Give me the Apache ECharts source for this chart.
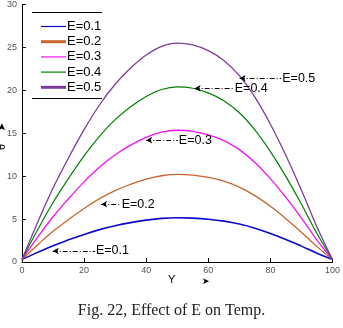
<!DOCTYPE html>
<html>
<head>
<meta charset="utf-8">
<script src="https://cdn.jsdelivr.net/npm/echarts@6/dist/echarts.min.js"></script>
<style>
html,body{margin:0;padding:0;background:#fff;}
#chart{width:343px;height:328px;}
</style>
</head>
<body>
<div id="chart"></div>
<script>
const xValues = [0,5,10,15,20,25,30,35,40,45,50,55,60,65,70,75,80,85,90,95,100];
const seriesNames = ['E=0.1','E=0.2','E=0.3','E=0.4','E=0.5'];
const e01 = [0.3,1.12,1.90,2.58,3.21,3.77,4.23,4.59,4.88,5.08,5.15,5.11,4.98,4.76,4.42,3.94,3.33,2.63,1.85,1.03,0.3];
const e02 = [0.3,1.98,3.57,4.95,6.24,7.38,8.32,9.06,9.66,10.05,10.2,10.12,9.85,9.41,8.72,7.73,6.49,5.05,3.47,1.79,0.3];
const e03 = [0.3,2.86,5.27,7.37,9.33,11.06,12.49,13.62,14.52,15.12,15.35,15.23,14.82,14.15,13.09,11.59,9.71,7.52,5.12,2.56,0.3];
const e04 = [0.3,3.72,6.93,9.75,12.36,14.67,16.58,18.09,19.29,20.10,20.4,20.24,19.70,18.79,17.39,15.38,12.86,9.95,6.73,3.32,0.3];
const e05 = [0.3,4.58,8.62,12.14,15.42,18.32,20.71,22.60,24.11,25.12,25.5,25.30,24.62,23.48,21.72,19.20,16.05,12.40,8.36,4.08,0.3];
const xTicks = [0,20,40,60,80,100];
const yTicks = [0,5,10,15,20,25,30];
// annotation arrows: [tipX, tipY, endX]
const annotations = [[9.9,1.28,23.5],[25.5,6.74,31.8],[40.0,14.19,50.2],[55.6,20.23,68.2],[70.1,21.4,83.5]];

const allData = [e01,e02,e03,e04,e05];
const colors = ['#0a0ac8','#c8642d','#f010f0','#008000','#7a3e98'];
const widths = [1.6,1.3,1.3,1.2,1.3];
const legendWidths = [1.2,3,1.2,1.2,3];

const chart = echarts.init(document.getElementById('chart'));
const series = allData.map((arr,i)=>({
  name: seriesNames[i],
  type: 'line',
  smooth: 0.4,
  showSymbol: false,
  symbol: 'none',
  data: xValues.map((x,j)=>[x,arr[j]]),
  lineStyle: {color: colors[i], width: widths[i]},
  itemStyle: {color: colors[i]},
  markLine: {
    silent: true,
    symbol: ['arrow','none'],
    symbolSize: [5,6],
    animation: false,
    lineStyle: {color:'#000', width:1, type:[5,2,1,2]},
    label: {show:true, position:'end', formatter: seriesNames[i], color:'#000', fontSize:12.5, fontFamily:'Liberation Sans, Arial', distance:1},
    data: [[{coord:[annotations[i][0],annotations[i][1]]},{coord:[annotations[i][2],annotations[i][1]]}]]
  }
}));

chart.setOption({
  animation: false,
  backgroundColor: '#fff',
  grid: {left: 22, right: 6, top: 4, bottom: 66},
  xAxis: {
    type: 'value', min: 0, max: 100, interval: 20,
    axisLine: {lineStyle: {color:'#000', width:1}},
    axisTick: {inside: true, length: 4, lineStyle:{color:'#000'}},
    axisLabel: {color:'#555', fontSize: 9, fontFamily:'Liberation Sans, Arial', margin: 4,
      formatter: v => xTicks.includes(v) ? String(v) : ''},
    splitLine: {show:false}
  },
  yAxis: {
    type: 'value', min: 0, max: 30, interval: 5,
    axisLine: {show:true, lineStyle: {color:'#000', width:1}},
    axisTick: {show:true, inside: true, length: 4, lineStyle:{color:'#000'}},
    axisLabel: {color:'#555', fontSize: 9, fontFamily:'Liberation Sans, Arial', margin: 5,
      formatter: v => yTicks.includes(v) ? String(v) : ''},
    splitLine: {show:false}
  },
  legend: {
    orient: 'vertical', left: 36, top: 15,
    itemWidth: 25, itemHeight: 12, itemGap: 2.2,
    icon: 'rect',
    textStyle: {color:'#000', fontSize: 13, fontFamily:'Liberation Sans, Arial', padding:[0,0,0,-4]},
    data: seriesNames.map((n,i)=>({name:n, icon:'path://M0,0L25,0L25,'+legendWidths[i]+'L0,'+legendWidths[i]+'Z', itemStyle:{color:colors[i]}}))
  },
  graphic: [
    {type:'line', shape:{x1:32,y1:12.5,x2:102,y2:12.5}, style:{stroke:'#000', lineWidth:1}},
    {type:'line', shape:{x1:32,y1:98.5,x2:102,y2:98.5}, style:{stroke:'#000', lineWidth:1}},
    {type:'text', left:168, top:274, style:{text:'Y', fontSize:11, fill:'#000', fontFamily:'Liberation Sans, Arial'}},
    {type:'text', left:202, top:277, style:{text:'➤', fontSize:9, fill:'#000', fontFamily:'DejaVu Sans'}},
    {type:'text', x:-3, y:150, rotation:Math.PI/2, style:{text:'θ    ➤', fontSize:10, fill:'#000', fontFamily:'DejaVu Sans'}},
    {type:'text', left:'center', top:303, style:{text:'Fig. 22, Effect of E on Temp.', fontSize:16, fill:'#222', fontFamily:'Liberation Serif, Times New Roman, serif'}}
  ],
  series: series
});
</script>
</body>
</html>
